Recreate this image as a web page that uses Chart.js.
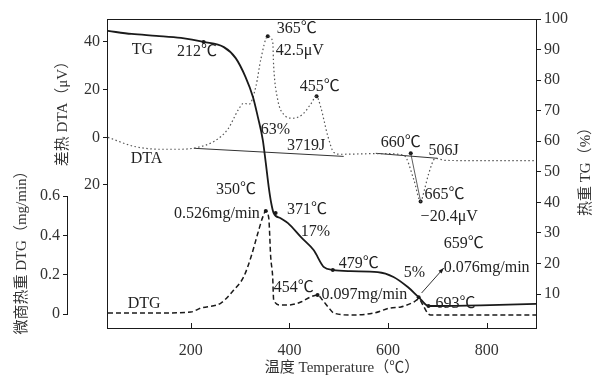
<!DOCTYPE html>
<html>
<head>
<meta charset="utf-8">
<script src="https://cdn.jsdelivr.net/npm/chart.js@4.4.0/dist/chart.umd.min.js"></script>
<style>
  html, body { margin: 0; padding: 0; background: #fff; }
</style>
</head>
<body>
<canvas id="thermoChart" width="599" height="377"></canvas>
<script>
// temperature axis ticks
const xTicks = [200, 400, 600, 800];
const tgTicks = [10, 20, 30, 40, 50, 60, 70, 80, 90, 100];
const dtaTicks = [40, 20, 0, -20];
const dtgTicks = [0, 0.2, 0.4, 0.6];

// TG curve (%)
const tgTemp = [32, 80, 130, 180, 226, 267, 291, 311, 326, 336, 346, 352, 358, 363, 368, 382, 397, 423, 449, 470, 488, 524, 579, 611, 640, 662, 682, 700, 788, 900];
const tgVal  = [96.1, 95.1, 94.5, 93.8, 92.5, 90.8, 87.2, 81, 74.5, 67.9, 60.4, 52.9, 45, 39.8, 36.5, 34.8, 33.2, 28.7, 24.4, 18.8, 17.9, 17.5, 17.2, 15.6, 12.3, 9.0, 6.1, 6.1, 6.3, 6.8];

// DTA curve (uV)
const dtaTemp = [32, 85, 139, 180, 214, 247, 275, 297, 307, 318, 332, 342, 356, 366, 368, 376, 388, 407, 427, 443, 455, 463, 478, 490, 504, 585, 632, 652, 666, 674, 682, 696, 717, 900];
const dtaVal  = [0, -3.8, -5, -5, -4.2, -1.7, 3.4, 11.8, 14.3, 13.9, 21.4, 32.8, 42.4, 40.3, 29.8, 16, 9.7, 8, 9.7, 13.9, 17.2, 13, 0.4, -6.3, -7.1, -6.8, -7.5, -17.6, -26.9, -21.8, -15.5, -8.8, -9.7, -9.8];

// DTG curve (mg/min)
const dtgTemp = [32, 119, 200, 220, 261, 287, 307, 322, 336, 346, 352, 358, 362, 366, 368, 382, 399, 423, 443, 457, 467, 480, 490, 524, 571, 605, 626, 652, 662, 672, 680, 686, 900];
const dtgVal  = [0.005, 0.005, 0.01, 0.03, 0.056, 0.122, 0.188, 0.29, 0.412, 0.494, 0.524, 0.489, 0.29, 0.188, 0.071, 0.046, 0.046, 0.061, 0.087, 0.097, 0.071, 0.031, 0.005, -0.005, 0.005, 0.031, 0.036, 0.061, 0.076, 0.04, 0.005, -0.005, -0.005];

// marked points
const tgMarkTemp = [226, 372, 488, 662, 682];
const tgMarkVal  = [92.5, 36.5, 17.9, 9.0, 6.1];
const dtaMarkTemp = [356, 455, 646, 666];
const dtaMarkVal  = [42.4, 17.2, -6.7, -26.9];
const dtgMarkTemp = [352, 457];
const dtgMarkVal  = [0.524, 0.097];

// DTA baselines and drop line
const base1Temp = [206, 510];
const base1Val  = [-4.6, -8.0];
const base2Temp = [575, 700];
const base2Val  = [-6.7, -8.8];
const dropTemp = [646, 666];
const dropVal  = [-6.7, -26.9];

// arrow to the 659 label (DTG axis)
const arrowTemp = [668, 713];
const arrowVal  = [0.107, 0.234];

// annotation texts: [text, temperature, value, axis]
const notes = [
  ['TG', 80, 89.9, 'yTG'],
  ['212℃', 172, 89.2, 'yTG'],
  ['365℃', 374, 45.4, 'yDTA'],
  ['42.5μV', 372, 36.1, 'yDTA'],
  ['455℃', 421, 21, 'yDTA'],
  ['63%', 342, 63.7, 'yTG'],
  ['3719J', 395, -3.4, 'yDTA'],
  ['DTA', 78, -9.2, 'yDTA'],
  ['660℃', 585, -2.5, 'yDTA'],
  ['506J', 682, -5.5, 'yDTA'],
  ['665℃', 674, -24, 'yDTA'],
  ['−20.4μV', 666, -33.2, 'yDTA'],
  ['350℃', 251, 0.631, 'yDTG'],
  ['0.526mg/min', 166, 0.509, 'yDTG'],
  ['371℃', 395, 37.5, 'yTG'],
  ['17%', 423, 30.3, 'yTG'],
  ['479℃', 500, 19.8, 'yTG'],
  ['454℃', 368, 0.132, 'yDTG'],
  ['0.097mg/min', 465, 0.097, 'yDTG'],
  ['5%', 632, 16.9, 'yTG'],
  ['659℃', 713, 0.356, 'yDTG'],
  ['0.076mg/min', 713, 0.234, 'yDTG'],
  ['693℃', 696, 6.9, 'yTG'],
  ['DTG', 72, 0.051, 'yDTG']
];

const serif = '"Liberation Serif", "Noto Sans CJK SC", serif';
const ink = '#1a1a1a';

function pts(xs, ys) {
  return xs.map((x, i) => ({ x: x, y: ys[i] }));
}

function fixedTicks(list) {
  return function (scale) {
    scale.ticks = list.map(v => ({ value: v }));
  };
}

const decor = {
  id: 'decor',
  afterDraw(chart) {
    const { ctx, chartArea: a, scales } = chart;
    ctx.save();
    ctx.strokeStyle = ink;
    ctx.lineWidth = 1;
    // top frame line
    ctx.beginPath();
    ctx.moveTo(a.left, a.top + 0.5);
    ctx.lineTo(a.right, a.top + 0.5);
    ctx.stroke();

    // inward ticks on temperature axis
    xTicks.forEach(v => {
      const px = Math.round(scales.x.getPixelForValue(v)) + 0.5;
      ctx.beginPath();
      ctx.moveTo(px, a.bottom);
      ctx.lineTo(px, a.bottom - 5);
      ctx.stroke();
    });

    // short DTG axis line
    const g = scales.yDTG;
    const gx = Math.round(g.right) - 0.5;
    ctx.beginPath();
    ctx.moveTo(gx, g.getPixelForValue(0.6));
    ctx.lineTo(gx, g.getPixelForValue(0));
    ctx.stroke();

    // arrow
    const x0 = scales.x.getPixelForValue(arrowTemp[0]);
    const y0 = g.getPixelForValue(arrowVal[0]);
    const x1 = scales.x.getPixelForValue(arrowTemp[1]);
    const y1 = g.getPixelForValue(arrowVal[1]);
    ctx.lineWidth = 0.9;
    ctx.beginPath();
    ctx.moveTo(x0, y0);
    ctx.lineTo(x1, y1);
    ctx.stroke();
    const ang = Math.atan2(y1 - y0, x1 - x0);
    ctx.fillStyle = ink;
    ctx.beginPath();
    ctx.moveTo(x1, y1);
    ctx.lineTo(x1 - 6 * Math.cos(ang - 0.35), y1 - 6 * Math.sin(ang - 0.35));
    ctx.lineTo(x1 - 6 * Math.cos(ang + 0.35), y1 - 6 * Math.sin(ang + 0.35));
    ctx.closePath();
    ctx.fill();

    // annotations
    ctx.font = '16px ' + serif;
    ctx.fillStyle = '#222';
    ctx.textAlign = 'left';
    ctx.textBaseline = 'middle';
    notes.forEach(([txt, t, v, axis]) => {
      ctx.fillText(txt, scales.x.getPixelForValue(t), scales[axis].getPixelForValue(v));
    });

    // axis titles
    ctx.font = '15px ' + serif;
    ctx.fillStyle = '#333';
    ctx.textAlign = 'center';
    ctx.fillText('温度 Temperature（℃）', 342, 368);
    const vTitle = (txt, cx, cy) => {
      ctx.save();
      ctx.translate(cx, cy);
      ctx.rotate(-Math.PI / 2);
      ctx.fillText(txt, 0, 0);
      ctx.restore();
    };
    vTitle('差热 DTA（μV）', 63, 110);
    vTitle('微商热重 DTG（mg/min）', 22, 249);
    vTitle('热重 TG（%）', 586, 168);
    ctx.restore();
  }
};

const tickFont = { family: serif, size: 16 };

new Chart(document.getElementById('thermoChart'), {
  type: 'line',
  data: {
    datasets: [
      { data: pts(tgTemp, tgVal), yAxisID: 'yTG', borderColor: ink, borderWidth: 1.8, pointRadius: 0, cubicInterpolationMode: 'monotone' },
      { data: pts(dtaTemp, dtaVal), yAxisID: 'yDTA', borderColor: '#555', borderWidth: 1.2, borderDash: [1.5, 2.5], pointRadius: 0, cubicInterpolationMode: 'monotone' },
      { data: pts(dtgTemp, dtgVal), yAxisID: 'yDTG', borderColor: ink, borderWidth: 1.5, borderDash: [5, 3], pointRadius: 0, cubicInterpolationMode: 'monotone' },
      { data: pts(base1Temp, base1Val), yAxisID: 'yDTA', borderColor: '#333', borderWidth: 1, pointRadius: 0 },
      { data: pts(base2Temp, base2Val), yAxisID: 'yDTA', borderColor: '#333', borderWidth: 1, pointRadius: 0 },
      { data: pts(dropTemp, dropVal), yAxisID: 'yDTA', borderColor: '#333', borderWidth: 0.8, pointRadius: 0 },
      { data: pts(tgMarkTemp, tgMarkVal), yAxisID: 'yTG', showLine: false, pointRadius: 2, pointBackgroundColor: ink, pointBorderWidth: 0 },
      { data: pts(dtaMarkTemp, dtaMarkVal), yAxisID: 'yDTA', showLine: false, pointRadius: 2, pointBackgroundColor: ink, pointBorderWidth: 0 },
      { data: pts(dtgMarkTemp, dtgMarkVal), yAxisID: 'yDTG', showLine: false, pointRadius: 2, pointBackgroundColor: ink, pointBorderWidth: 0 }
    ]
  },
  options: {
    responsive: false,
    animation: false,
    devicePixelRatio: 1,
    layout: { padding: { top: 19, left: 0, right: 0, bottom: 0 } },
    plugins: { legend: { display: false }, tooltip: { enabled: false } },
    scales: {
      x: {
        type: 'linear',
        position: 'bottom',
        min: 30,
        max: 900,
        afterBuildTicks: fixedTicks(xTicks),
        afterFit(scale) { scale.height = 49; },
        grid: { display: false },
        border: { display: true, color: ink, width: 1 },
        ticks: { font: tickFont, color: '#333', padding: 5, maxRotation: 0 }
      },
      yDTA: {
        type: 'linear',
        position: 'left',
        weight: 0,
        min: -80,
        max: 49.65,
        afterBuildTicks: fixedTicks(dtaTicks),
        afterFit(scale) { scale.width = 39; },
        grid: { drawOnChartArea: false, tickLength: 4, color: ink },
        border: { display: true, color: ink, width: 1 },
        ticks: { font: tickFont, color: '#333', padding: 3, callback: v => String(Math.abs(v)) }
      },
      yDTG: {
        type: 'linear',
        position: 'left',
        weight: 1,
        min: -0.071,
        max: 1.5,
        afterBuildTicks: fixedTicks(dtgTicks),
        afterFit(scale) { scale.width = 68; },
        grid: { drawOnChartArea: false, tickLength: 5, color: ink },
        border: { display: false },
        ticks: { font: tickFont, color: '#333', padding: 3, callback: v => (v === 0 ? '0' : v.toFixed(1)) }
      },
      yTG: {
        type: 'linear',
        position: 'right',
        min: -1.1,
        max: 100,
        afterBuildTicks: fixedTicks(tgTicks),
        afterFit(scale) { scale.width = 63; },
        grid: { drawOnChartArea: false, tickLength: 5, color: ink },
        border: { display: true, color: ink, width: 1 },
        ticks: { font: tickFont, color: '#333', padding: 3 }
      }
    }
  },
  plugins: [decor]
});
</script>
</body>
</html>
